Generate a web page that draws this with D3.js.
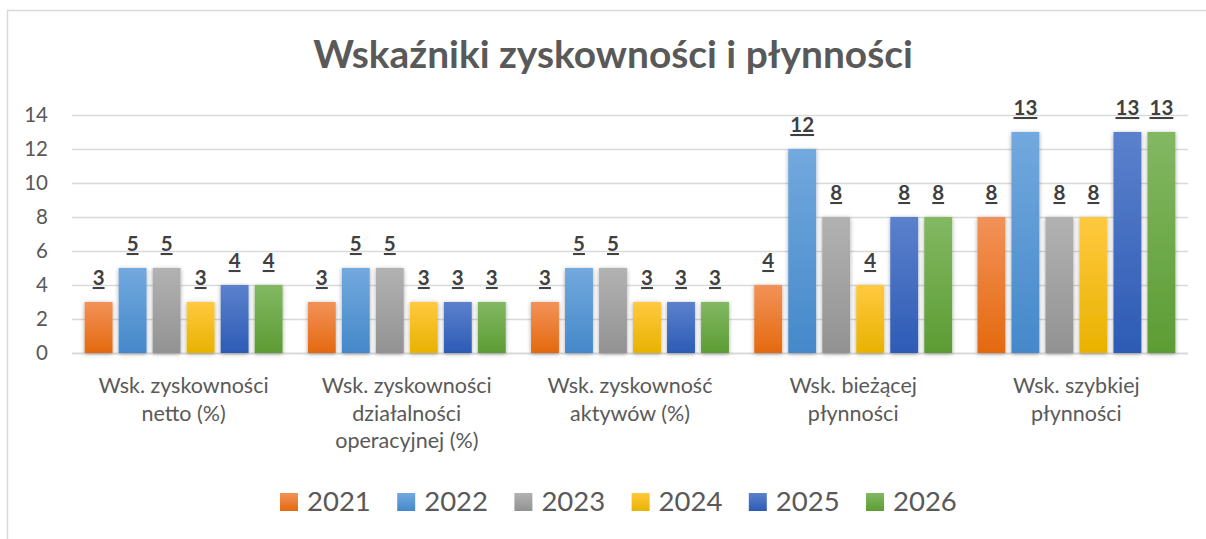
<!DOCTYPE html>
<html><head><meta charset="utf-8">
<script src="https://cdn.jsdelivr.net/npm/d3@7"></script>
<style>
html,body{margin:0;padding:0;background:#fff;}
svg{display:block;font-family:Lato,"Open Sans",sans-serif;}
</style></head>
<body><svg id="c" width="1206" height="539"></svg>
<script>
const title = "Wskaźniki zyskowności i płynności";
const categories = [
  ["Wsk. zyskowności","netto (%)"],
  ["Wsk. zyskowności","działalności","operacyjnej (%)"],
  ["Wsk. zyskowność","aktywów (%)"],
  ["Wsk. bieżącej","płynności"],
  ["Wsk. szybkiej","płynności"]
];
const years = ["2021","2022","2023","2024","2025","2026"];
const v2021 = [3,3,3,4,8];
const v2022 = [5,5,5,12,13];
const v2023 = [5,5,5,8,8];
const v2024 = [3,3,3,4,8];
const v2025 = [4,3,3,8,13];
const v2026 = [4,3,3,8,13];
const series = [v2021,v2022,v2023,v2024,v2025,v2026];
const yTicks = [0,2,4,6,8,10,12,14];
const colorsTop = ["#f29258","#72a9de","#b2b2b2","#ffc940","#5b81cc","#82b862"];
const colorsBot = ["#e4690f","#4588ca","#929292","#e8b200","#2d5bb5","#5c9c34"];

const svg = d3.select("#c");
const defs = svg.append("defs");
years.forEach((yv,i)=>{
  const g = defs.append("linearGradient").attr("id","g"+i).attr("x1",0).attr("y1",0).attr("x2",0).attr("y2",1);
  g.append("stop").attr("offset","0%").attr("stop-color",colorsTop[i]);
  g.append("stop").attr("offset","100%").attr("stop-color",colorsBot[i]);
});
const f = defs.append("filter").attr("id","sh").attr("x","-30%").attr("y","-10%").attr("width","160%").attr("height","120%");
f.append("feDropShadow").attr("dx",0).attr("dy",1).attr("stdDeviation",2.2).attr("flood-color","#000").attr("flood-opacity",0.35);

// chart border
svg.append("rect").attr("x",7.5).attr("y",10.5).attr("width",1230).attr("height",560)
  .attr("fill","none").attr("stroke","#d9d9d9").attr("stroke-width",1.5);

const pLeft=72, pRight=1188, pTop=115, pBottom=353;
const x0 = d3.scaleBand().domain(d3.range(categories.length)).range([pLeft,pRight]).padding(0);
const x1 = d3.scaleBand().domain(years).range([0,x0.bandwidth()]).paddingInner(0.18).paddingOuter(0.372);
const y = d3.scaleLinear().domain([0,14]).range([pBottom,pTop]);

// title
const t = svg.append("text").attr("x",613).attr("y",68).attr("text-anchor","middle")
  .attr("font-weight","bold").attr("font-size",37).attr("fill","#595959").text(title);
const tw = t.node().getComputedTextLength();
t.attr("font-size", 37*600/tw);

// gridlines
const yAxis = d3.axisLeft(y).tickValues(yTicks).tickSize(-(pRight-pLeft)).tickPadding(24);
const ga = svg.append("g").attr("transform",`translate(${pLeft},0)`).call(yAxis);
ga.select(".domain").remove();
ga.selectAll(".tick line").attr("stroke","#d9d9d9").attr("stroke-width",1.3);
ga.selectAll(".tick text").attr("fill","#595959").attr("font-size",20.5).attr("font-family","Lato,sans-serif").attr("dy","0.34em");
ga.selectAll(".tick").filter(d=>d===0).select("line").attr("stroke-width",2);

// bars
const groups = svg.append("g").selectAll("g").data(categories).join("g")
  .attr("transform",(d,i)=>`translate(${x0(i)},0)`);
groups.each(function(c,ci){
  const g = d3.select(this);
  years.forEach((yr,si)=>{
    const v = series[si][ci];
    g.append("rect").attr("x",x1(yr)).attr("y",y(v)).attr("width",x1.bandwidth())
      .attr("height",y(0)-y(v)).attr("fill",`url(#g${si})`).attr("filter","url(#sh)");
  });
  years.forEach((yr,si)=>{
    const v = series[si][ci];
    g.append("text").attr("x",x1(yr)+x1.bandwidth()/2).attr("y",y(v)-17)
      .attr("text-anchor","middle").attr("font-weight","bold").attr("font-size",20.5)
      .attr("fill","#404040").attr("text-decoration","underline").text(v);
  });
  const lab = g.append("text").attr("text-anchor","middle").attr("fill","#595959").attr("font-size",21.5);
  c.forEach((line,li)=>{
    lab.append("tspan").attr("x",x0.bandwidth()/2).attr("y",393+li*27.5).text(line);
  });
});

// legend
const lg = svg.append("g");
years.forEach((yr,i)=>{
  const gx = 280 + i*117.2;
  lg.append("rect").attr("x",gx).attr("y",493).attr("width",18).attr("height",18).attr("fill",`url(#g${i})`);
  lg.append("text").attr("x",gx+27).attr("y",511).attr("font-size",27.5).attr("fill","#595959").text(yr);
});
</script></body></html>
